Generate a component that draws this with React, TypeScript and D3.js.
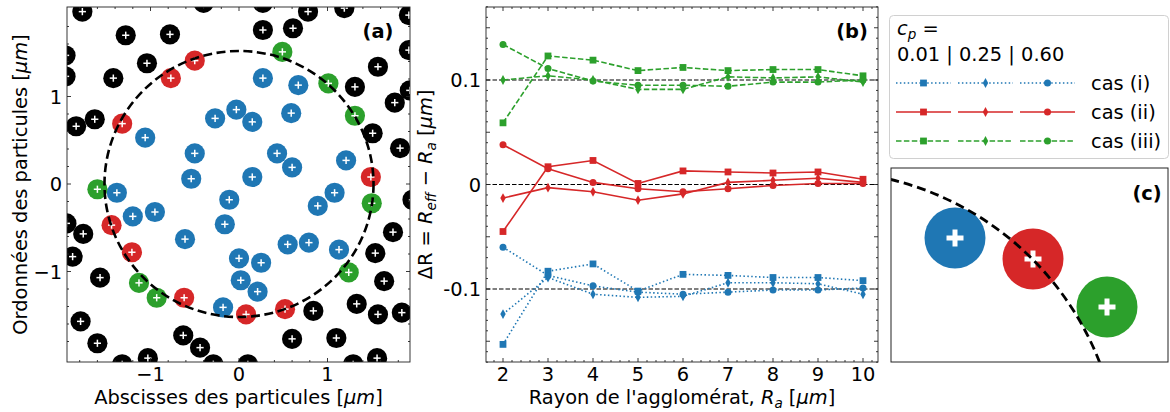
import React from "react";
import * as d3 from "d3";

const FONT = "DejaVu Sans, sans-serif";
const FS = 19.4;
const SUB = 13.5;
const BLUE = "#1f77b4";
const RED = "#d62728";
const GREEN = "#2ca02c";

// ---------- Panel (a): particle positions [x, y] in µm ----------
const bluePts: [number, number][] = [
  [0.27, 1.21], [0.67, 1.13], [-0.27, 0.75], [-0.03, 0.85], [0.15, 0.71],
  [-1.06, 0.53], [-0.5, 0.35], [0.43, 0.35], [0.59, 0.81], [0.6, 0.19],
  [1.21, 0.27], [-0.54, 0.06], [0.15, 0.08], [-1.38, -0.1], [1.08, -0.1],
  [-0.11, -0.18], [0.89, -0.25], [-1.2, -0.37], [-0.95, -0.32], [-0.16, -0.46],
  [-0.61, -0.63], [0.55, -0.69], [0.79, -0.67], [1.13, -0.75], [0.0, -0.85],
  [0.25, -0.9], [0.02, -1.1], [0.21, -1.23], [-0.18, -1.41],
];
const redPts: [number, number][] = [
  [-0.5, 1.41], [-0.77, 1.21], [-1.32, 0.69], [1.49, 0.08], [-1.44, -0.47],
  [-1.21, -0.78], [-0.62, -1.3], [0.08, -1.49], [0.52, -1.43],
];
const greenPts: [number, number][] = [
  [0.49, 1.51], [1.01, 1.15], [1.31, 0.78], [1.5, -0.22], [1.24, -1.01],
  [-1.6, -0.06], [-1.13, -1.13], [-0.93, -1.3],
];
const blackPts: [number, number][] = [
  [-1.77, 1.97], [-1.28, 1.7], [-0.78, 1.71], [-0.4, 2.07], [-1.96, 1.47],
  [-1.96, 1.23], [-1.04, 1.38], [-1.42, 1.21], [-1.63, 0.74], [-1.84, 0.66],
  [0.27, 2.07], [0.78, 1.97], [1.19, 2.01], [0.27, 1.76], [0.61, 1.78],
  [1.92, 1.93], [1.92, 1.53], [1.57, 1.34], [1.31, 1.11], [1.93, 1.07],
  [1.76, 0.93], [1.51, 0.58], [1.82, 0.41], [1.96, -0.18], [1.74, -0.55],
  [1.54, -0.79], [1.64, -1.11], [1.33, -1.37], [1.57, -1.49], [1.84, -1.47],
  [0.84, -1.45], [-1.95, -0.45], [-1.76, -0.57], [-1.88, -0.83], [-1.57, -1.07],
  [-1.79, -1.57], [-1.6, -1.82], [-0.63, -1.73], [-0.44, -1.87], [0.6, -1.77],
  [1.1, -1.76], [-1.32, -2.06], [-1.03, -1.99], [-0.29, -2.06], [0.1, -2.06],
  [1.29, -2.06], [1.56, -1.99],
];
const particleR = 0.114;
const clusterR = 1.52;
const aTicks = [-1, 0, 1];
const aTickLabels = ["\u22121", "0", "1"];

// ---------- Panel (b) ----------
const radii = [2, 3, 4, 5, 6, 7, 8, 9, 10];
const casI_001 = [-0.153, -0.083, -0.076, -0.102, -0.086, -0.087, -0.089, -0.089, -0.092];
const casI_025 = [-0.124, -0.089, -0.105, -0.108, -0.107, -0.094, -0.094, -0.095, -0.105];
const casI_060 = [-0.06, -0.087, -0.097, -0.103, -0.105, -0.103, -0.101, -0.101, -0.099];
const casII_001 = [-0.045, 0.017, 0.023, 0.001, 0.013, 0.012, 0.011, 0.012, 0.005];
const casII_025 = [-0.013, -0.003, -0.007, -0.015, -0.009, 0.002, 0.004, 0.006, 0.002];
const casII_060 = [0.038, 0.015, 0.002, -0.004, -0.007, -0.004, -0.001, 0.001, 0.001];
const casIII_001 = [0.059, 0.123, 0.119, 0.109, 0.112, 0.109, 0.11, 0.11, 0.104];
const casIII_025 = [0.1, 0.104, 0.1, 0.091, 0.091, 0.103, 0.102, 0.103, 0.098];
const casIII_060 = [0.134, 0.111, 0.099, 0.095, 0.095, 0.094, 0.098, 0.098, 0.1];
const bRefLines = [-0.1, 0, 0.1];
const bYTickLabels = ["-0.1", "0", "0.1"];
const legendCp = ["0.01", "0.25", "0.60"];
const legendCases = ["cas (i)", "cas (ii)", "cas (iii)"];

// ---------- Panel (c) ----------
const cBlue: [number, number] = [0.675, 1.165];
const cRed: [number, number] = [1.065, 1.06];
const cGreen: [number, number] = [1.435, 0.82];
const cParticleR = 0.1525;
const cClusterR = 1.5;

type Marker = "s" | "d" | "o";

function MarkerShape({ kind, x, y, color }: { kind: Marker; x: number; y: number; color: string }) {
  if (kind === "s") {
    const s = 6.8;
    return <rect x={x - s / 2} y={y - s / 2} width={s} height={s} fill={color} />;
  }
  if (kind === "o") {
    return <circle cx={x} cy={y} r={3.5} fill={color} />;
  }
  const w = 2.7, h = 4.9;
  return <path d={`M${x},${y - h}L${x + w},${y}L${x},${y + h}L${x - w},${y}Z`} fill={color} />;
}

export default function App() {
  const A = { l: 67, r: 410, t: 7, b: 362 };
  const xa = d3.scaleLinear().domain([-1, 1]).range([150.5, 327.5]);
  const ya = d3.scaleLinear().domain([-1, 1]).range([271.5, 96.5]);
  const pr = xa(particleR) - xa(0);

  const B = { l: 486, r: 878, t: 7, b: 362 };
  const xb = d3.scaleLinear().domain([2, 10]).range([503, 863]);
  const yb = d3.scaleLinear().domain([-0.1, 0.1]).range([289, 80]);

  const C = { l: 891, r: 1168, t: 168, b: 362 };
  const xc = d3.scaleLinear().domain([0, 1]).range([820, 1020]);
  const yc = d3.scaleLinear().domain([0, 1]).range([471, 271]);

  const frameStroke = "#222";

  const notInt = (v: number) => Math.abs(v - Math.round(v)) > 1e-6;
  const aMinorX = d3.range(-18, 19, 2).map((v) => v / 10).filter(notInt);
  const aMinorY = d3.range(-20, 21, 2).map((v) => v / 10).filter(notInt);
  const bMinorX = d3.range(18, 103, 2).map((v) => v / 10).filter(notInt);
  const bMajorY = d3.range(-15, 16, 5).map((v) => v / 100);
  const bMinorY = d3.range(-17, 18, 1).map((v) => v / 100).filter((v) => notInt(v * 20));

  const series = [
    { color: BLUE, dash: "1.5,2.4", vals: [casI_001, casI_025, casI_060] },
    { color: RED, dash: "", vals: [casII_001, casII_025, casII_060] },
    { color: GREEN, dash: "5.5,2.4", vals: [casIII_001, casIII_025, casIII_060] },
  ];
  const markers: Marker[] = ["s", "d", "o"];

  const line = d3
    .line<number>()
    .x((_, i) => xb(radii[i]))
    .y((d) => yb(d));

  const plus = (cx: number, cy: number, half: number, sw: number, key: string) => (
    <g key={key} stroke="#fff" strokeWidth={sw}>
      <line x1={cx - half} x2={cx + half} y1={cy} y2={cy} />
      <line x1={cx} x2={cx} y1={cy - half} y2={cy + half} />
    </g>
  );

  const drawParticles = (pts: [number, number][], color: string, key: string) =>
    pts.map((p, i) => (
      <g key={key + i}>
        <circle cx={xa(p[0])} cy={ya(p[1])} r={pr} fill={color} />
        {plus(xa(p[0]), ya(p[1]), 3.6, 1.5, "p")}
      </g>
    ));

  const tickLen = 4, minorLen = 2;

  return (
    <svg width={1170} height={412} style={{ display: "block", position: "absolute", left: 0, top: 0 }} fontFamily={FONT}>
      <rect x={0} y={0} width={1170} height={412} fill="#fff" />
      <defs>
        <clipPath id="clipA"><rect x={A.l} y={A.t} width={A.r - A.l} height={A.b - A.t} /></clipPath>
        <clipPath id="clipB"><rect x={B.l} y={B.t} width={B.r - B.l} height={B.b - B.t} /></clipPath>
        <clipPath id="clipC"><rect x={C.l} y={C.t} width={C.r - C.l} height={C.b - C.t} /></clipPath>
      </defs>

      {/* ================= Panel (a) ================= */}
      <g clipPath="url(#clipA)">
        {drawParticles(blackPts, "#000", "k")}
        {drawParticles(bluePts, BLUE, "b")}
        {drawParticles(redPts, RED, "r")}
        {drawParticles(greenPts, GREEN, "g")}
        <ellipse
          cx={xa(0)} cy={ya(0)}
          rx={xa(clusterR) - xa(0)} ry={ya(0) - ya(clusterR)}
          fill="none" stroke="#000" strokeWidth={2.6} strokeDasharray="9,4.5"
        />
      </g>
      <g stroke={frameStroke} strokeWidth={0.9}>
        {aTicks.map((v) => (
          <g key={"ax" + v}>
            <line x1={xa(v)} x2={xa(v)} y1={A.b} y2={A.b - tickLen} />
            <line x1={xa(v)} x2={xa(v)} y1={A.t} y2={A.t + tickLen} />
            <line y1={ya(v)} y2={ya(v)} x1={A.l} x2={A.l + tickLen} />
            <line y1={ya(v)} y2={ya(v)} x1={A.r} x2={A.r - tickLen} />
          </g>
        ))}
        {aMinorX.map((v) => (
          <g key={"amx" + v}>
            <line x1={xa(v)} x2={xa(v)} y1={A.b} y2={A.b - minorLen} />
            <line x1={xa(v)} x2={xa(v)} y1={A.t} y2={A.t + minorLen} />
          </g>
        ))}
        {aMinorY.map((v) => (
          <g key={"amy" + v}>
            <line y1={ya(v)} y2={ya(v)} x1={A.l} x2={A.l + minorLen} />
            <line y1={ya(v)} y2={ya(v)} x1={A.r} x2={A.r - minorLen} />
          </g>
        ))}
        <rect x={A.l} y={A.t} width={A.r - A.l} height={A.b - A.t} fill="none" />
      </g>
      <g fontSize={FS} fill="#000">
        {aTicks.map((v, i) => (
          <text key={"axl" + v} x={xa(v)} y={381} textAnchor="middle">{aTickLabels[i]}</text>
        ))}
        {aTicks.map((v, i) => (
          <text key={"ayl" + v} x={A.l - 5} y={ya(v) + 7} textAnchor="end">{aTickLabels[i]}</text>
        ))}
        <text x={(A.l + A.r) / 2} y={404} textAnchor="middle">
          Abscisses des particules [<tspan fontStyle="italic">μm</tspan>]
        </text>
        <text transform={`translate(27, ${(A.t + A.b) / 2}) rotate(-90)`} textAnchor="middle">
          Ordonnées des particules [<tspan fontStyle="italic">μm</tspan>]
        </text>
        <text x={378} y={38} textAnchor="middle" fontWeight="bold">(a)</text>
      </g>

      {/* ================= Panel (b) ================= */}
      <g clipPath="url(#clipB)">
        {bRefLines.map((v) => (
          <line key={"ref" + v} x1={B.l} x2={B.r} y1={yb(v)} y2={yb(v)} stroke="#000" strokeWidth={1.1} strokeDasharray="4.5,2" />
        ))}
        {series.map((s, si) =>
          s.vals.map((vals, vi) => (
            <g key={`s${si}-${vi}`}>
              <path d={line(vals) || ""} fill="none" stroke={s.color} strokeWidth={1.6} strokeDasharray={s.dash || undefined} />
              {vals.map((v, i) => (
                <MarkerShape key={i} kind={markers[vi]} x={xb(radii[i])} y={yb(v)} color={s.color} />
              ))}
            </g>
          ))
        )}
      </g>
      <g stroke={frameStroke} strokeWidth={0.9}>
        {radii.map((v) => (
          <g key={"bx" + v}>
            <line x1={xb(v)} x2={xb(v)} y1={B.b} y2={B.b - tickLen} />
            <line x1={xb(v)} x2={xb(v)} y1={B.t} y2={B.t + tickLen} />
          </g>
        ))}
        {bMinorX.map((v) => (
          <g key={"bmx" + v}>
            <line x1={xb(v)} x2={xb(v)} y1={B.b} y2={B.b - minorLen} />
            <line x1={xb(v)} x2={xb(v)} y1={B.t} y2={B.t + minorLen} />
          </g>
        ))}
        {bMajorY.map((v) => (
          <g key={"by" + v}>
            <line y1={yb(v)} y2={yb(v)} x1={B.l} x2={B.l + tickLen} />
            <line y1={yb(v)} y2={yb(v)} x1={B.r} x2={B.r - tickLen} />
          </g>
        ))}
        {bMinorY.map((v) => (
          <g key={"bmy" + v}>
            <line y1={yb(v)} y2={yb(v)} x1={B.l} x2={B.l + minorLen} />
            <line y1={yb(v)} y2={yb(v)} x1={B.r} x2={B.r - minorLen} />
          </g>
        ))}
        <rect x={B.l} y={B.t} width={B.r - B.l} height={B.b - B.t} fill="none" />
      </g>
      <g fontSize={FS} fill="#000">
        {radii.map((v) => (
          <text key={"bxl" + v} x={xb(v)} y={381} textAnchor="middle">{v}</text>
        ))}
        {bRefLines.map((v, i) => (
          <text key={"byl" + v} x={B.l - 5} y={yb(v) + 7} textAnchor="end">{bYTickLabels[i]}</text>
        ))}
        <text x={(B.l + B.r) / 2} y={404} textAnchor="middle">
          Rayon de l'agglomérat, <tspan fontStyle="italic">R</tspan>
          <tspan fontStyle="italic" fontSize={SUB} dy={4}>a</tspan>
          <tspan dy={-4}> [</tspan><tspan fontStyle="italic">μm</tspan>]
        </text>
        <text transform={`translate(432, ${(B.t + B.b) / 2}) rotate(-90)`} textAnchor="middle">
          ΔR = <tspan fontStyle="italic">R</tspan>
          <tspan fontStyle="italic" fontSize={SUB} dy={4}>eff</tspan>
          <tspan dy={-4}> − </tspan><tspan fontStyle="italic">R</tspan>
          <tspan fontStyle="italic" fontSize={SUB} dy={4}>a</tspan>
          <tspan dy={-4}> [</tspan><tspan fontStyle="italic">μm</tspan>]
        </text>
        <text x={852} y={38} textAnchor="middle" fontWeight="bold">(b)</text>
      </g>

      {/* ================= Legend ================= */}
      <g fontSize={FS}>
        <rect x={889.5} y={15.5} width={279} height={143} rx={4} fill="#fff" stroke="#d0d0d0" />
        <text x={897} y={35}>
          <tspan fontStyle="italic">c</tspan>
          <tspan fontStyle="italic" fontSize={SUB} dy={4}>p</tspan>
          <tspan dy={-4}> =</tspan>
        </text>
        <text x={897} y={61}>{legendCp.join(" | ")}</text>
        {series.map((s, si) => {
          const cy = 83 + si * 29;
          return (
            <g key={"leg" + si}>
              {markers.map((m, mi) => {
                const x0 = 896 + mi * 62;
                return (
                  <g key={mi}>
                    <line x1={x0} x2={x0 + 55} y1={cy} y2={cy} stroke={s.color} strokeWidth={1.6} strokeDasharray={s.dash || undefined} />
                    <MarkerShape kind={m} x={x0 + 27.5} y={cy} color={s.color} />
                  </g>
                );
              })}
              <text x={1091} y={cy + 7}>{legendCases[si]}</text>
            </g>
          );
        })}
      </g>

      {/* ================= Panel (c) ================= */}
      <g clipPath="url(#clipC)">
        {[
          { p: cBlue, c: BLUE },
          { p: cRed, c: RED },
          { p: cGreen, c: GREEN },
        ].map((o, i) => (
          <g key={"cp" + i}>
            <circle cx={xc(o.p[0])} cy={yc(o.p[1])} r={xc(cParticleR) - xc(0)} fill={o.c} />
            {plus(xc(o.p[0]), yc(o.p[1]), 8.5, 5, "pl")}
          </g>
        ))}
        <circle cx={xc(0)} cy={yc(0)} r={xc(cClusterR) - xc(0)} fill="none" stroke="#000" strokeWidth={2.8} strokeDasharray="9,5" />
      </g>
      <rect x={C.l} y={C.t} width={C.r - C.l} height={C.b - C.t} fill="none" stroke={frameStroke} strokeWidth={1} />
      <text x={1147} y={200} fontSize={FS} fontWeight="bold" textAnchor="middle">(c)</text>
    </svg>
  );
}
